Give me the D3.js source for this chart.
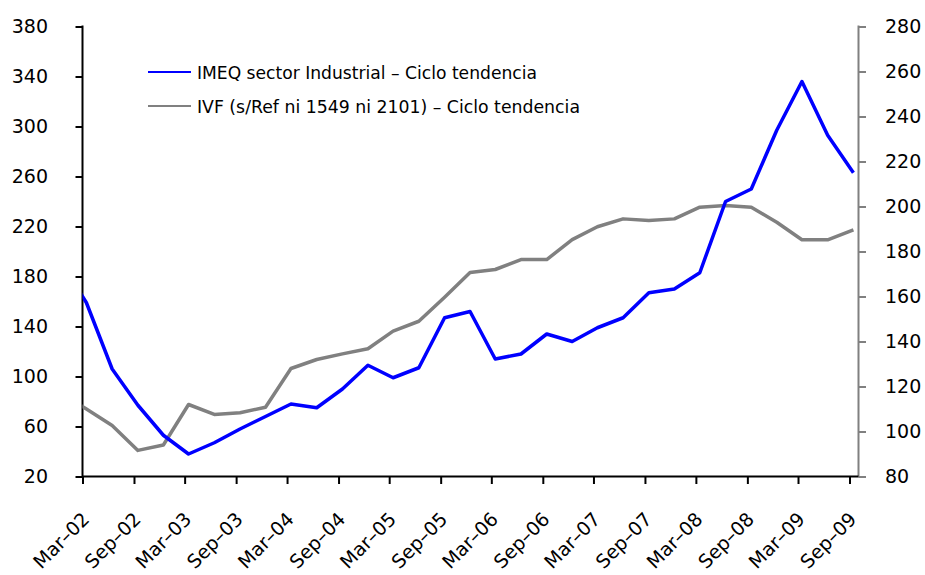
<!DOCTYPE html>
<html>
<head>
<meta charset="utf-8">
<script src="https://cdn.jsdelivr.net/npm/d3@7"></script>
<style>
  html, body { margin: 0; padding: 0; background: #fff; }
  svg { display: block; font-family: "DejaVu Sans", sans-serif; }
</style>
</head>
<body>
<svg id="chart" width="925" height="575"></svg>
<script>
// Quarterly periods (first one lies before the axis start and is clipped)
const periods = ["Dec-01",
  "Mar-02","Jun-02","Sep-02","Dec-02","Mar-03","Jun-03","Sep-03","Dec-03",
  "Mar-04","Jun-04","Sep-04","Dec-04","Mar-05","Jun-05","Sep-05","Dec-05",
  "Mar-06","Jun-06","Sep-06","Dec-06","Mar-07","Jun-07","Sep-07","Dec-07",
  "Mar-08","Jun-08","Sep-08","Dec-08","Mar-09","Jun-09","Sep-09"];

// IMEQ sector Industrial – Ciclo tendencia (left axis)
const imeq = [192,
  159, 106, 77, 53, 38, 47, 58, 68,
  78, 75, 90, 109, 99, 107, 147, 152,
  114, 118, 134, 128, 139, 147, 167, 170,
  183, 240, 250, 297, 336, 293, 263];

// IVF (s/Ref ni 1549 ni 2101) – Ciclo tendencia (right axis)
const ivf = [117,
  110, 102.7, 91.6, 94, 112, 107.6, 108.3, 110.8,
  128, 132, 134.5, 136.8, 144.6, 149, 159.7, 170.7,
  172, 176.4, 176.4, 185.3, 191, 194.5, 193.8, 194.5,
  199.7, 200.4, 199.7, 193, 185.2, 185.2, 189.6];

const xTickLabels = ["Mar-02","Sep-02","Mar-03","Sep-03","Mar-04","Sep-04","Mar-05","Sep-05",
  "Mar-06","Sep-06","Mar-07","Sep-07","Mar-08","Sep-08","Mar-09","Sep-09"];
const leftTicks = [20,60,100,140,180,220,260,300,340,380];
const rightTicks = [80,100,120,140,160,180,200,220,240,260,280];

const seriesNames = ["IMEQ sector Industrial \u2013 Ciclo tendencia",
                     "IVF (s/Ref ni 1549 ni 2101) \u2013 Ciclo tendencia"];
const seriesColors = ["#0000ff", "#808080"];

// ---------------------------------------------------------------
const parse = d3.timeParse("%b-%y");
const mid = s => { const d = parse(s); return new Date(d.getFullYear(), d.getMonth(), 15); };

const L = 82.5, R = 858.5, T = 26.5, B = 476.5;
const svg = d3.select("#chart");

const x = d3.scaleTime()
  .domain([parse("Mar-02"), parse("Sep-09")])
  .range([L, 849.5]);
const yL = d3.scaleLinear().domain([20, 380]).range([B, T]);
const yR = d3.scaleLinear().domain([80, 280]).range([B, T]);

svg.append("defs").append("clipPath").attr("id", "plot")
  .append("rect").attr("x", L).attr("y", 0).attr("width", R - L).attr("height", 575);

const fontSize = 19;

// Left axis
const gL = svg.append("g").attr("transform", `translate(${L},0)`)
  .call(d3.axisLeft(yL).tickValues(leftTicks).tickSize(7).tickPadding(27.5).tickFormat(d3.format("d")));
gL.select(".domain").remove();
gL.selectAll(".tick line").attr("stroke", "#000").attr("stroke-width", 2);
gL.selectAll(".tick text").attr("font-size", fontSize).attr("fill", "#000")
  .attr("font-family", "DejaVu Sans, sans-serif");

// Right axis
const gR = svg.append("g").attr("transform", `translate(${R},0)`)
  .call(d3.axisRight(yR).tickValues(rightTicks).tickSize(7.5).tickPadding(19).tickFormat(d3.format("d")));
gR.select(".domain").remove();
gR.selectAll(".tick line").attr("stroke", "#808080").attr("stroke-width", 2);
gR.selectAll(".tick text").attr("font-size", fontSize).attr("fill", "#000")
  .attr("font-family", "DejaVu Sans, sans-serif");

// Bottom axis
const tickDates = xTickLabels.map(parse);
const gB = svg.append("g").attr("transform", `translate(0,${B})`)
  .call(d3.axisBottom(x).tickValues(tickDates).tickSize(7.5).tickFormat(""));
gB.select(".domain").remove();
gB.selectAll(".tick line").attr("stroke", "#000").attr("stroke-width", 2);

svg.append("g").selectAll("text").data(xTickLabels).join("text")
  .attr("transform", d => `translate(${x(parse(d)) + 8},${B + 44}) rotate(-45)`)
  .attr("text-anchor", "end")
  .attr("font-size", fontSize)
  .attr("fill", "#000")
  .text(d => d.replace("-", "\u2013"));

// Axis lines
svg.append("line").attr("x1", R).attr("x2", R).attr("y1", T - 1).attr("y2", B)
  .attr("stroke", "#808080").attr("stroke-width", 2);
svg.append("line").attr("x1", L).attr("x2", R).attr("y1", B).attr("y2", B)
  .attr("stroke", "#000").attr("stroke-width", 2);
svg.append("line").attr("x1", L).attr("x2", L).attr("y1", T - 1).attr("y2", B + 1)
  .attr("stroke", "#000").attr("stroke-width", 2);

// Lines
const dates = periods.map(mid);
const lineL = d3.line().x((d, i) => x(dates[i])).y(d => yL(d));
const lineR = d3.line().x((d, i) => x(dates[i])).y(d => yR(d));

const plot = svg.append("g").attr("clip-path", "url(#plot)");
plot.append("path").datum(ivf).attr("d", lineR)
  .attr("fill", "none").attr("stroke", seriesColors[1]).attr("stroke-width", 3.5)
  .attr("stroke-linejoin", "round");
plot.append("path").datum(imeq).attr("d", lineL)
  .attr("fill", "none").attr("stroke", seriesColors[0]).attr("stroke-width", 3.5)
  .attr("stroke-linejoin", "round");

// Legend
const leg = svg.append("g");
seriesNames.forEach((name, i) => {
  const cy = 72 + i * 34;
  leg.append("line").attr("x1", 148).attr("x2", 191).attr("y1", cy).attr("y2", cy)
    .attr("stroke", seriesColors[i]).attr("stroke-width", 2);
  leg.append("text").attr("x", 197).attr("y", cy + 6.5)
    .attr("font-size", 17.5).attr("fill", "#000")
    .attr("textLength", i === 0 ? 340 : 383).attr("lengthAdjust", "spacingAndGlyphs")
    .text(name);
});
</script>
</body>
</html>
